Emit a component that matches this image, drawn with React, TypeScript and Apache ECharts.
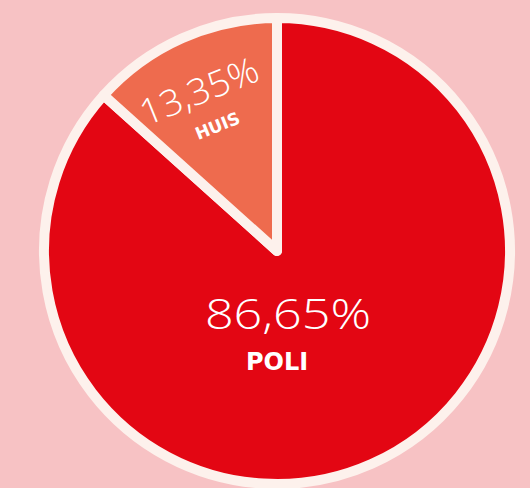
import React, { useEffect, useRef } from "react";
import * as echarts from "echarts";

const categories = ["POLI", "HUIS"];
const values = [86.65, 13.35];
const colors = ["#e30613", "#ee6b4e"];

const fmt = (v: number) => v.toFixed(2).replace(".", ",") + "%";

export default function App() {
  const ref = useRef<HTMLDivElement>(null);
  useEffect(() => {
    if (!ref.current) return;
    const chart = echarts.init(ref.current, null, { renderer: "svg" });
    const cx = 277;
    const cy = 251;
    const R = 233;
    const total = values.reduce((a, b) => a + b, 0);
    const huisShare = values[1] / total;
    const midDeg = 90 + (huisShare * 360) / 2 + 2;
    const midRad = (midDeg * Math.PI) / 180;
    const lr = R * 0.69;
    const hx = cx + lr * Math.cos(midRad);
    const hy = cy - lr * Math.sin(midRad);
    const rot = (22 * Math.PI) / 180;
    const thin = "'Open Sans', 'DejaVu Sans', sans-serif";
    const bold = "'DejaVu Sans', 'Open Sans', sans-serif";

    chart.setOption({
      animation: false,
      backgroundColor: "#f7c2c4",
      series: [
        {
          type: "pie",
          center: [cx, cy],
          radius: [0, R],
          startAngle: 90,
          clockwise: true,
          silent: true,
          label: { show: false },
          labelLine: { show: false },
          itemStyle: {
            borderColor: "#fdf1ec",
            borderWidth: 10,
            borderJoin: "round",
          },
          data: categories.map((c, i) => ({
            name: c,
            value: values[i],
            itemStyle: { color: colors[i] },
          })),
        },
      ],
      graphic: [
        {
          type: "group",
          x: hx,
          y: hy,
          rotation: rot,
          z: 100,
          children: [
            {
              type: "text",
              x: -1,
              y: -18,
              z: 100,
              scaleX: 1.05,
              style: {
                text: fmt(values[1]),
                fill: "#ffffff",
                fontSize: 36,
                fontFamily: thin,
                fontWeight: 300,
                align: "center",
                verticalAlign: "middle",
              },
            },
            {
              type: "text",
              x: 3,
              y: 22,
              z: 100,
              style: {
                text: categories[1],
                fill: "#ffffff",
                fontSize: 17,
                fontFamily: bold,
                fontWeight: "bold",
                align: "center",
                verticalAlign: "middle",
              },
            },
          ],
        },
        {
          type: "text",
          x: 288,
          y: 312,
          z: 100,
          scaleX: 1.17,
          style: {
            text: fmt(values[0]),
            fill: "#ffffff",
            fontSize: 43,
            fontFamily: thin,
            fontWeight: 300,
            align: "center",
            verticalAlign: "middle",
          },
        },
        {
          type: "text",
          x: 277,
          y: 362,
          z: 100,
          style: {
            text: categories[0],
            fill: "#ffffff",
            fontSize: 24,
            fontFamily: bold,
            fontWeight: "bold",
            align: "center",
            verticalAlign: "middle",
          },
        },
      ],
    });
    return () => chart.dispose();
  }, []);
  return (
    <div
      ref={ref}
      style={{ position: "absolute", left: 0, top: 0, width: 530, height: 488 }}
    />
  );
}
